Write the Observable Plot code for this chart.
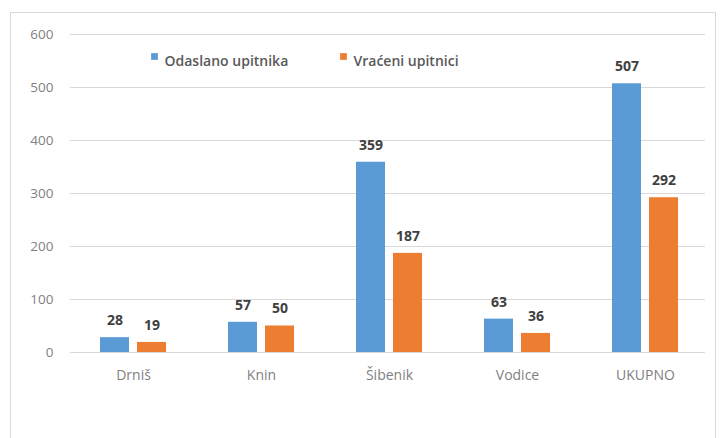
<!DOCTYPE html>
<html>
<head>
<meta charset="utf-8">
<script src="https://cdn.jsdelivr.net/npm/d3@7"></script>
<script src="https://cdn.jsdelivr.net/npm/@observablehq/plot@0.6"></script>
<style>
  html, body { margin: 0; padding: 0; background: #fff; }
  #wrap { position: relative; width: 726px; height: 438px; }
  #wrap svg { position: absolute; left: 0; top: 0; }
  #border { position: absolute; left: 10px; top: 12px; width: 706px; height: 430px; border: 1px solid #d9d9d9; box-sizing: border-box; pointer-events: none; }
</style>
</head>
<body>
<div id="wrap"><div id="border"></div></div>
<script>
const categories = ["Drniš", "Knin", "Šibenik", "Vodice", "UKUPNO"];
const seriesNames = ["Odaslano upitnika", "Vraćeni upitnici"];
const sent = [28, 57, 359, 63, 507];
const returned = [19, 50, 187, 36, 292];
const yTicks = [0, 100, 200, 300, 400, 500, 600];
const colors = ["#5B9BD5", "#ED7D31"];

const dataSent = categories.map((c, i) => ({category: c, value: sent[i]}));
const dataRet = categories.map((c, i) => ({category: c, value: returned[i]}));

const font = "'Open Sans', 'Noto Sans', sans-serif";

const legendMarks = [];
const legendOffsets = [84, 273];
seriesNames.forEach((name, i) => {
  legendMarks.push(Plot.dot([name], {frameAnchor: "top-left", dx: legendOffsets[i], dy: 22, symbol: "square", r: 3.8, fill: colors[i], stroke: null}));
  legendMarks.push(Plot.text([name], {frameAnchor: "top-left", dx: legendOffsets[i] + 10, dy: 22, text: d => d, textAnchor: "start", fontSize: 14, fill: "#595959", fontWeight: 600}));
});

const step = 128.4;
const pInner = 1 - 66 / step;

const chart = Plot.plot({
  width: 726,
  height: 438,
  marginLeft: 70,
  marginRight: 21,
  marginTop: 34,
  marginBottom: 86,
  style: {fontFamily: font, background: "transparent"},
  x: {domain: categories, range: [68, 710], paddingInner: pInner, paddingOuter: pInner / 2, align: 0.5, label: null},
  y: {domain: [0, 600], label: null},
  marks: [
    Plot.gridY(yTicks, {stroke: "#d9d9d9", strokeOpacity: 1}),
    Plot.axisY({ticks: yTicks, tickSize: 0, tickPadding: 17, fontSize: 13.5, color: "#7f7f7f", label: null}),
    Plot.axisX({tickSize: 0, tickPadding: 18, fontSize: 14, color: "#7f7f7f", label: null}),
    Plot.barY(dataSent, {x: "category", y: "value", fill: colors[0], insetRight: 37}),
    Plot.barY(dataRet, {x: "category", y: "value", fill: colors[1], insetLeft: 37}),
    Plot.text(dataSent, {x: "category", y: "value", text: d => String(d.value), dx: -18.5, dy: -17, fontWeight: "bold", fontSize: 14, fill: "#404040"}),
    Plot.text(dataRet, {x: "category", y: "value", text: d => String(d.value), dx: 18.5, dy: -17, fontWeight: "bold", fontSize: 14, fill: "#404040"}),
    ...legendMarks
  ]
});
document.getElementById("wrap").prepend(chart);
</script>
</body>
</html>
